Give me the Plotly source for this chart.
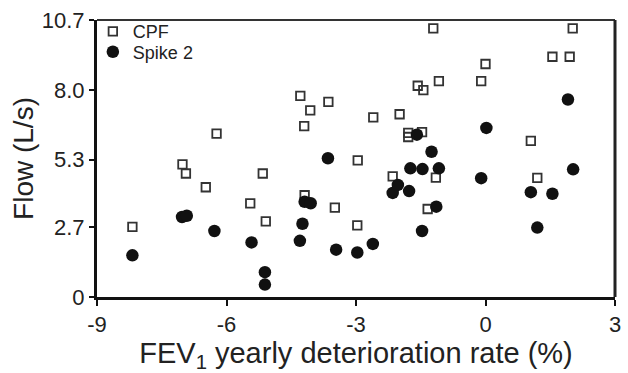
import plotly.graph_objects as go

# CPF (open squares)
cpf_x = [-8.18, -7.02, -6.94, -6.48, -6.23, -5.45, -5.16, -5.09, -4.29, -4.20,
         -4.06, -4.19, -3.64, -3.49, -2.96, -2.97, -2.60, -2.15, -1.99, -1.79,
         -1.79, -1.57, -1.47, -1.44, -1.34, -1.21, -1.15, -1.08, -0.10, 0.00,
         1.05, 1.20, 1.55, 1.95, 2.02]
cpf_y = [2.71, 5.12, 4.77, 4.24, 6.31, 3.62, 4.77, 2.92, 7.77, 6.60,
         7.21, 3.93, 7.54, 3.45, 5.28, 2.77, 6.94, 4.66, 7.06, 6.34,
         6.18, 8.16, 6.37, 7.99, 3.40, 10.38, 4.61, 8.34, 8.34, 9.00,
         6.03, 4.60, 9.28, 9.28, 10.38]

# Spike 2 (filled circles)
spike_x = [-8.18, -7.03, -6.92, -6.28, -5.42, -5.11, -5.11, -4.24, -4.30, -4.19,
           -4.05, -3.46, -2.97, -2.61, -2.15, -2.03, -1.77, -1.47, -1.14, -0.10,
           1.05, 1.55, 1.20, 1.91, 0.02, -1.59, -1.25, -3.65, -1.74, -1.46,
           -1.08, 2.03]
spike_y = [1.61, 3.09, 3.14, 2.55, 2.11, 0.96, 0.48, 2.83, 2.17, 3.68,
           3.62, 1.83, 1.72, 2.05, 4.02, 4.33, 4.09, 2.55, 3.49, 4.59,
           4.05, 3.99, 2.68, 7.63, 6.53, 6.27, 5.61, 5.36, 4.97, 4.94,
           4.97, 4.93]

x_ticks = [-9, -6, -3, 0, 3]
x_ticktext = ["-9", "-6", "-3", "0", "3"]
y_ticks = [0, 2.7, 5.3, 8.0, 10.7]
y_ticktext = ["0", "2.7", "5.3", "8.0", "10.7"]

FONT = "Liberation Sans, Arial, sans-serif"

fig = go.Figure()
fig.add_trace(go.Scatter(
    x=cpf_x, y=cpf_y, mode="markers", name="CPF", legend="legend",
    marker=dict(symbol="square-open", size=8.5, color="#333333",
                line=dict(width=1.8, color="#333333")),
))
fig.add_trace(go.Scatter(
    x=spike_x, y=spike_y, mode="markers", name="Spike 2", legend="legend2",
    marker=dict(symbol="circle", size=12.5, color="#111111",
                line=dict(width=0)),
))

legend_common = dict(xanchor="left", yanchor="top",
                     bgcolor="rgba(0,0,0,0)", borderwidth=0,
                     font=dict(size=18, family=FONT, color="#222222"),
                     itemwidth=30)

fig.update_layout(
    width=628, height=373,
    margin=dict(l=97, r=7, t=20, b=68),
    paper_bgcolor="white", plot_bgcolor="white",
    font=dict(family=FONT, color="#222222"),
    showlegend=True,
    legend=dict(x=-0.008, y=1.025, **legend_common),
    legend2=dict(x=-0.008, y=0.951, **legend_common),
    xaxis=dict(range=[-9, 3], tickvals=x_ticks, ticktext=x_ticktext,
               showgrid=False, zeroline=False,
               showline=True, linecolor="#111111", linewidth=3,
               ticks="outside", ticklen=6, tickwidth=1.5, tickcolor="#111111",
               tickfont=dict(size=22, family=FONT, color="#222222"),
               title=dict(text="FEV<sub>1</sub> yearly deterioration rate (%)",
                          font=dict(size=29, family=FONT, color="#222222"),
                          standoff=8),
               mirror=False, fixedrange=True),
    yaxis=dict(range=[0, 10.7], tickvals=y_ticks, ticktext=y_ticktext,
               showgrid=False, zeroline=False,
               showline=True, linecolor="#111111", linewidth=3,
               ticks="outside", ticklen=5, tickwidth=1.5, tickcolor="#111111",
               tickfont=dict(size=22, family=FONT, color="#222222"),
               title=dict(text="Flow (L/s)",
                          font=dict(size=28, family=FONT, color="#222222"),
                          standoff=0),
               mirror=False, fixedrange=True),
)

# top and right frame lines
fig.add_shape(type="line", xref="paper", yref="paper", x0=0, x1=1, y0=1, y1=1,
              line=dict(color="#333333", width=2))
fig.add_shape(type="line", xref="paper", yref="paper", x0=1, x1=1, y0=0, y1=1,
              line=dict(color="#222222", width=3))

fig.write_html("out.html")
